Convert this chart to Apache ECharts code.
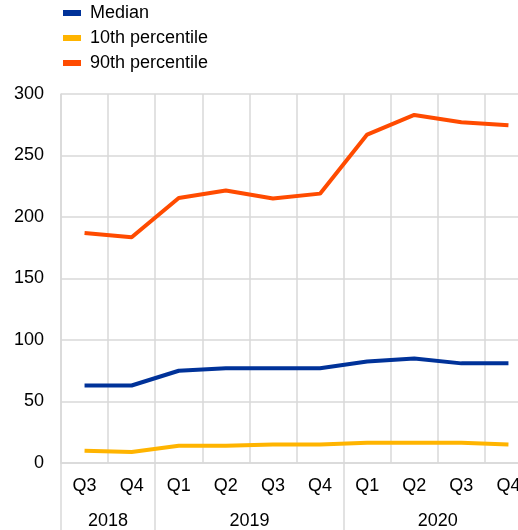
<!DOCTYPE html>
<html><head><meta charset="utf-8">
<script src="https://cdn.jsdelivr.net/npm/echarts@6/dist/echarts.min.js"></script>
<style>html,body{margin:0;padding:0;background:#fff}#c{width:518px;height:530px}</style>
</head><body><div id="c"></div>
<script>
var quarters = ['Q3','Q4','Q1','Q2','Q3','Q4','Q1','Q2','Q3','Q4'];
var years = ['2018','2019','2020'];
var yearSpans = [2, 4, 4];
var median = [63, 63, 75, 77, 77, 77, 82.5, 85, 81, 81];
var p10 = [10, 9, 14, 14, 15, 15, 16.5, 16.5, 16.5, 15];
var p90 = [187, 183.5, 215.5, 221.5, 215, 219, 267, 283, 277, 274.5];
var yTicks = [0, 50, 100, 150, 200, 250, 300];

var boundaries = [0], centers = [], yearAt = {};
(function(){var s=0;for(var i=0;i<yearSpans.length;i++){centers.push(s+yearSpans[i]/2);yearAt[s+yearSpans[i]/2]=years[i];s+=yearSpans[i];if(i<yearSpans.length-1)boundaries.push(s);}})();

var grey = '#d9d9d9';
var font = {fontFamily:'Liberation Sans, Arial, sans-serif', fontSize:18, color:'#000'};
var chart = echarts.init(document.getElementById('c'));
chart.setOption({
  animation:false,
  legend:{orient:'vertical', left:58, top:-1, itemWidth:18, itemHeight:6, itemGap:7, icon:'rect',
    textStyle:Object.assign({}, font, {padding:[0,0,0,4]}),
    data:['Median','10th percentile','90th percentile']},
  grid:{left:61, top:94, right:-14, bottom:67, outerBoundsMode:'none', containLabel:false},
  xAxis:[
    {type:'category', data:quarters, boundaryGap:true,
     axisLine:{show:true, lineStyle:{color:grey, width:1.5}},
     axisTick:{show:false},
     axisLabel:Object.assign({}, font, {margin:14, interval:0}),
     splitLine:{show:true, interval:0, lineStyle:{color:grey, width:1.5}}},
    {type:'value', min:0, max:quarters.length, position:'bottom',
     axisLine:{show:false},
     axisTick:{show:true, customValues:boundaries, length:67, lineStyle:{color:grey, width:1.5}},
     axisLabel:Object.assign({}, font, {margin:49, customValues:centers, formatter:function(v){return yearAt[v]||'';}}),
     splitLine:{show:false}}
  ],
  yAxis:{type:'value', min:yTicks[0], max:yTicks[yTicks.length-1], interval:50,
    axisLine:{show:true, lineStyle:{color:grey, width:1.5}},
    axisTick:{show:false},
    axisLabel:Object.assign({}, font, {margin:17}),
    splitLine:{show:true, lineStyle:{color:grey, width:1.5}}},
  series:[
    {name:'Median', type:'line', data:median, color:'#003299', symbol:'none', lineStyle:{width:4}},
    {name:'10th percentile', type:'line', data:p10, color:'#ffb400', symbol:'none', lineStyle:{width:4}},
    {name:'90th percentile', type:'line', data:p90, color:'#ff4b00', symbol:'none', lineStyle:{width:4}}
  ]
});
</script></body></html>
